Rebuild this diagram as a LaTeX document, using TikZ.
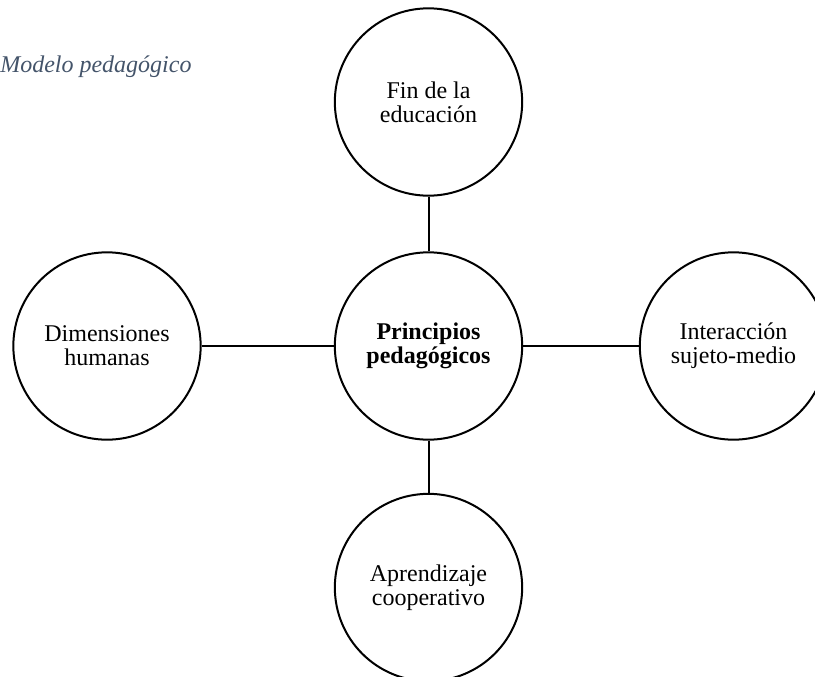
\documentclass[tikz,border=0pt]{standalone}
\usepackage{fontspec}
\setmainfont{Liberation Serif}
\definecolor{titleblue}{HTML}{44546A}
\begin{document}
\begin{tikzpicture}[x=0.75pt,y=-0.75pt,
  bubble/.style={circle,draw,line width=1.5pt,minimum size=140.5pt,inner sep=0pt,align=center,
    font=\fontsize{18pt}{18pt}\selectfont},
  link/.style={line width=1.5pt}]
\useasboundingbox (0,0) rectangle (815,676);
\clip (0,0) rectangle (815,676);
\node[anchor=base west,inner sep=0pt,text=titleblue,font=\fontsize{18pt}{18pt}\selectfont\itshape] (title) at (0,72) {Modelo pedagógico};
\node[bubble] (top) at (428.5,102) {Fin de la\\educación};
\node[bubble,font=\fontsize{18pt}{18pt}\selectfont\bfseries] (ctr) at (428.5,346) {Principios\\pedagógicos};
\node[bubble] (left) at (107,346) {Dimensiones\\humanas};
\node[bubble] (right) at (733.5,346) {Interacción\\sujeto-medio};
\node[bubble] (bottom) at (428.5,587.5) {Aprendizaje\\cooperativo};
\draw[link] (top) -- (ctr);
\draw[link] (ctr) -- (bottom);
\draw[link] (left) -- (ctr);
\draw[link] (ctr) -- (right);
\end{tikzpicture}
\end{document}
